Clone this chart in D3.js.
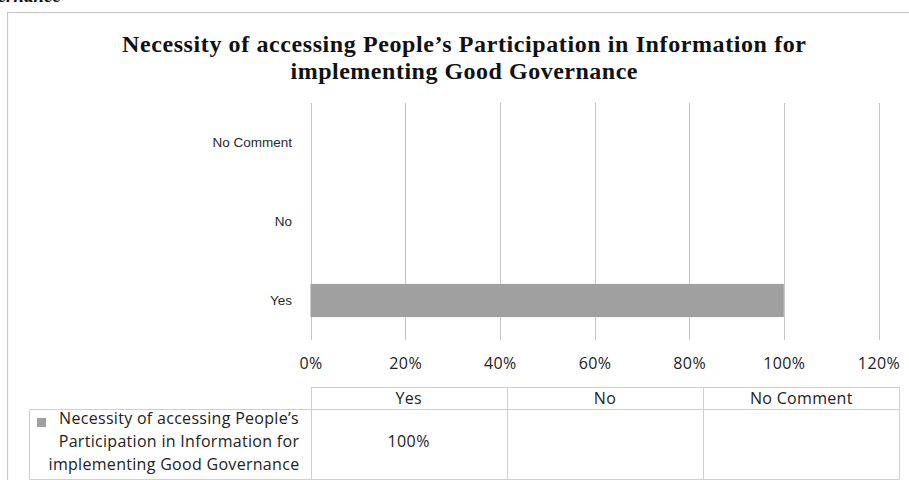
<!DOCTYPE html>
<html>
<head>
<meta charset="utf-8">
<script src="https://cdn.jsdelivr.net/npm/d3@7"></script>
<style>
  html, body { margin: 0; padding: 0; background: #fff; }
  svg { display: block; }
</style>
</head>
<body>
<svg id="chart" width="909" height="480"></svg>
<script>
// Survey answers and their shares
const categories = ["No Comment", "No", "Yes"];
const values = [0, 0, 1.0];
const tableColumns = ["Yes", "No", "No Comment"];
const tableValues = [1.0, null, null];
const tickValues = [0, 0.2, 0.4, 0.6, 0.8, 1.0, 1.2];
const seriesName = ["Necessity of accessing People\u2019s", "Participation in Information for", "implementing Good Governance"];
const titleLines = ["Necessity of accessing People\u2019s Participation in Information for", "implementing Good Governance"];

const svg = d3.select("#chart");
const sans = "'Open Sans', Lato, sans-serif";
const arial = "'Liberation Sans', Arial, sans-serif";
const serif = "'Liberation Serif', 'DejaVu Serif', serif";
const gridColor = "#c4c4c4";
const barColor = "#a0a0a0";
const textColor = "#222";

// heading fragment running above the chart frame
svg.append("text")
  .attr("x", 61).attr("y", 2)
  .attr("text-anchor", "end")
  .attr("font-family", serif).attr("font-weight", "bold").attr("font-style", "italic")
  .attr("font-size", 19).attr("fill", "#111")
  .text("Governance");

// chart frame
svg.append("rect")
  .attr("x", 7.5).attr("y", 12.5).attr("width", 920).attr("height", 500)
  .attr("fill", "#fff").attr("stroke", "#c8c8c8").attr("stroke-width", 1.2);

// title
const titleWidths = [684, 347];
svg.append("g").selectAll("text").data(titleLines).join("text")
  .attr("x", 464).attr("y", (d, i) => 52 + i * 27)
  .attr("text-anchor", "middle")
  .attr("font-family", serif).attr("font-weight", "bold")
  .attr("font-size", 24).attr("fill", "#111")
  .attr("textLength", (d, i) => titleWidths[i]).attr("lengthAdjust", "spacing")
  .text(d => d);

// scales
const x = d3.scaleLinear().domain([0, 1.2]).range([310.5, 878.5]);
const y = d3.scaleBand().domain(categories).range([103, 340]).padding(0);
const barH = y.bandwidth() * 0.42;

// vertical gridlines
svg.append("g").selectAll("line").data(tickValues).join("line")
  .attr("x1", d => Math.round(x(d)) + 0.5).attr("x2", d => Math.round(x(d)) + 0.5)
  .attr("y1", 103).attr("y2", 340)
  .attr("stroke", gridColor).attr("stroke-width", 1);

// bars
svg.append("g").selectAll("rect").data(categories).join("rect")
  .attr("x", x(0))
  .attr("y", (d, i) => y(d) + y.bandwidth() / 2 - barH / 2)
  .attr("width", (d, i) => x(values[i]) - x(0))
  .attr("height", barH)
  .attr("fill", barColor);

// category axis
const yAxis = svg.append("g")
  .attr("transform", "translate(292,0)")
  .call(d3.axisLeft(y).tickSize(0).tickPadding(0));
yAxis.select(".domain").remove();
yAxis.selectAll("text")
  .attr("font-family", arial).attr("font-size", 13.5).attr("fill", "#2a2a2a");

// value axis
const xAxis = svg.append("g")
  .attr("transform", "translate(0,358)")
  .call(d3.axisBottom(x).tickValues(tickValues).tickFormat(d3.format(".0%")).tickSize(0).tickPadding(0));
xAxis.select(".domain").remove();
xAxis.selectAll("text")
  .attr("font-family", sans).attr("font-size", 16).attr("letter-spacing", 0.4).attr("fill", textColor);

// data table under the chart
const tLeft = 310.5, tRight = 899.5, tTop = 387.5, tMid = 409.5, tBot = 479.5, lLeft = 29.5;
const col = d3.scaleBand().domain(tableColumns).range([tLeft, tRight]);
const tg = svg.append("g").attr("stroke", "#cfcfcf").attr("stroke-width", 1);
tg.append("line").attr("x1", tLeft).attr("x2", tRight).attr("y1", tTop).attr("y2", tTop);
tg.append("line").attr("x1", lLeft).attr("x2", tRight).attr("y1", tMid).attr("y2", tMid);
tg.append("line").attr("x1", lLeft).attr("x2", tRight).attr("y1", tBot).attr("y2", tBot);
tg.append("line").attr("x1", lLeft).attr("x2", lLeft).attr("y1", tMid).attr("y2", tBot);
tg.selectAll("line.v").data(tableColumns.concat(["end"])).join("line")
  .attr("class", "v")
  .attr("x1", d => d === "end" ? tRight : Math.round(col(d)) + 0.5)
  .attr("x2", d => d === "end" ? tRight : Math.round(col(d)) + 0.5)
  .attr("y1", tTop).attr("y2", tBot);

svg.append("g").selectAll("text").data(tableColumns).join("text")
  .attr("x", d => col(d) + col.bandwidth() / 2).attr("y", 404)
  .attr("text-anchor", "middle")
  .attr("font-family", sans).attr("font-size", 16).attr("letter-spacing", 0.3).attr("fill", textColor)
  .text(d => d);

svg.append("g").selectAll("text").data(tableColumns).join("text")
  .attr("x", d => col(d) + col.bandwidth() / 2).attr("y", 447)
  .attr("text-anchor", "middle")
  .attr("font-family", sans).attr("font-size", 16).attr("letter-spacing", 0.4).attr("fill", textColor)
  .text((d, i) => tableValues[i] == null ? "" : d3.format(".0%")(tableValues[i]));

// series key in the table
svg.append("rect")
  .attr("x", 37).attr("y", 418).attr("width", 9).attr("height", 9)
  .attr("fill", barColor);
svg.append("g").selectAll("text").data(seriesName).join("text")
  .attr("x", (d, i) => i === 2 ? 174 : 179).attr("y", (d, i) => 424 + i * 23)
  .attr("text-anchor", "middle")
  .attr("font-family", sans).attr("font-size", 16).attr("letter-spacing", 0.3).attr("fill", textColor)
  .text(d => d);
</script>
</body>
</html>
